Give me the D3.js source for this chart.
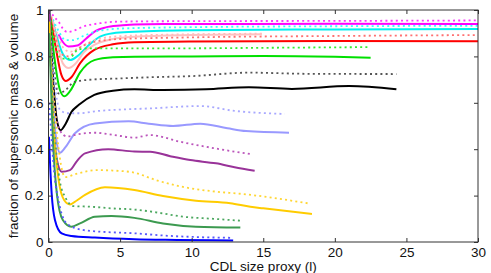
<!DOCTYPE html>
<html>
<head>
<meta charset="utf-8">
<script src="https://cdn.jsdelivr.net/npm/d3@7"></script>
<style>
  html, body { margin: 0; padding: 0; background: #fff; }
  #chart svg { display: block; }
</style>
</head>
<body>
<div id="chart"></div>
<script>
// values: [CDL size proxy, fraction]
var magentaSolid = [[0.7,0.895],[1.0,0.862],[1.4,0.843],[2.0,0.847],[2.6,0.875],[3.3,0.91],[4.0,0.925],[5.0,0.933],[6,0.937],[8,0.94],[12,0.94],[20,0.941],[30,0.94]];
var magentaDotted = [[0.05,1],[0.4,0.97],[0.7,0.95],[1.0,0.92],[1.3,0.905],[1.8,0.912],[2.4,0.928],[3.6,0.943],[5,0.95],[10,0.952],[20,0.953],[30,0.955]];
var cyanSolid = [[0.3,0.95],[0.6,0.88],[1.0,0.81],[1.5,0.784],[2.0,0.8],[2.7,0.842],[3.6,0.885],[4.5,0.9],[6,0.906],[10,0.913],[20,0.916],[30,0.918]];
var cyanDotted = [[0.3,0.96],[0.7,0.91],[1.2,0.87],[1.7,0.87],[2.5,0.89],[3.5,0.91],[5,0.92],[10,0.926],[20,0.93],[30,0.932]];
var pinkSolid = [[0.2,0.97],[0.6,0.86],[1.0,0.77],[1.4,0.75],[1.9,0.77],[2.5,0.82],[3.2,0.85],[4.5,0.875],[6,0.885],[10,0.892],[14.9,0.895]];
var pinkDotted = [[0.2,0.97],[0.6,0.9],[1.0,0.84],[1.5,0.82],[2.2,0.84],[3,0.865],[4.5,0.885],[7,0.892],[14.9,0.898]];
var redSolid = [[0.1,0.98],[0.5,0.84],[0.9,0.72],[1.2,0.694],[1.6,0.71],[2.2,0.77],[3.2,0.828],[4.5,0.852],[6,0.861],[10,0.864],[20,0.866],[30,0.865]];
var redDotted = [[0.1,0.98],[0.5,0.88],[0.9,0.81],[1.4,0.8],[2.0,0.83],[3,0.86],[5,0.875],[10,0.882],[20,0.888],[30,0.892]];
var greenSolid = [[0.05,1],[0.4,0.8],[0.8,0.655],[1.1,0.628],[1.5,0.65],[2.2,0.73],[3.2,0.784],[4.5,0.796],[6,0.799],[10,0.8],[15,0.802],[20,0.798],[22.5,0.794]];
var greenDotted = [[0.05,1],[0.4,0.87],[0.9,0.79],[1.4,0.79],[2.1,0.83],[3,0.835],[5,0.835],[10,0.835],[15,0.837],[22.3,0.84]];
var blackSolid = [[0.05,1],[0.3,0.72],[0.6,0.52],[0.85,0.482],[1.2,0.51],[1.6,0.56],[2.1,0.59],[3.2,0.634],[4.5,0.652],[6,0.658],[8,0.655],[11,0.658],[14,0.667],[17,0.66],[21,0.672],[24.3,0.658]];
var blackDotted = [[0.05,1],[0.3,0.8],[0.7,0.64],[1.1,0.65],[1.8,0.69],[3,0.7],[5,0.705],[7,0.71],[10,0.715],[14,0.73],[18,0.725],[24.3,0.724]];
var lightBlueSolid = [[0.05,1],[0.3,0.62],[0.6,0.42],[0.8,0.385],[1.2,0.41],[1.85,0.469],[3.24,0.511],[5.6,0.52],[7,0.51],[8.7,0.5],[10.6,0.51],[12.5,0.49],[13.8,0.478],[16.8,0.471]];
var lightBlueDotted = [[0.05,0.98],[0.4,0.7],[0.8,0.57],[1.3,0.555],[2.1,0.555],[3.5,0.565],[5.5,0.572],[7.1,0.576],[10.6,0.586],[13,0.565],[16.5,0.552]];
var purpleSolid = [[0.05,1],[0.3,0.55],[0.6,0.35],[0.92,0.303],[1.5,0.31],[2.0,0.35],[2.55,0.382],[4.17,0.4],[6,0.39],[7.1,0.389],[8.5,0.37],[9.9,0.353],[11.7,0.339],[13,0.322],[14.4,0.307]];
var purpleDotted = [[0.05,0.9],[0.4,0.6],[0.8,0.48],[1.3,0.455],[2.1,0.465],[3.2,0.471],[4.5,0.462],[6,0.45],[7.1,0.461],[9.2,0.432],[11.5,0.405],[13.8,0.382],[14.25,0.378]];
var yellowSolid = [[0.05,0.95],[0.3,0.55],[0.7,0.27],[1.1,0.18],[1.5,0.162],[2.0,0.18],[2.55,0.203],[3.94,0.236],[6,0.224],[8,0.198],[10.3,0.178],[12.7,0.167],[14.1,0.152],[15,0.145],[18.4,0.121]];
var yellowDotted = [[0.05,0.9],[0.4,0.6],[0.8,0.36],[1.15,0.28],[2.0,0.295],[3.4,0.31],[4.5,0.308],[5.9,0.3],[7.5,0.267],[9.2,0.24],[11.7,0.217],[13.4,0.208],[18.1,0.167]];
var darkGreenSolid = [[0.05,0.9],[0.3,0.45],[0.6,0.2],[1.0,0.095],[1.6,0.066],[2.2,0.08],[3.24,0.109],[4.4,0.112],[6,0.104],[8,0.08],[10.3,0.066],[13.4,0.062]];
var darkGreenDotted = [[0.05,0.9],[0.4,0.5],[0.8,0.26],[1.2,0.19],[1.73,0.155],[3,0.152],[4.4,0.145],[6,0.14],[7.5,0.128],[9.4,0.109],[11.5,0.1],[13.4,0.092]];
var blueSolid = [[0.03,0.454],[0.1,0.35],[0.22,0.21],[0.45,0.095],[0.92,0.037],[1.6,0.026],[3.24,0.019],[6,0.012],[9,0.009],[12.9,0.006]];
var blueDotted = [[0.05,0.6],[0.4,0.3],[0.8,0.15],[1.27,0.08],[2.4,0.052],[4,0.043],[5.9,0.038],[8,0.028],[10,0.022],[12.9,0.018]];

var xTicks = [0, 5, 10, 15, 20, 25, 30];
var yTicks = [0, 0.2, 0.4, 0.6, 0.8, 1];
var xLabel = 'CDL size proxy (l)';
var yLabel = 'fraction of supersonic mass & volume';

(function() {

  'use strict'

  var Chart = function(element) {
    this.element = element;
    this.svg = null;
    this.width = 491;
    this.height = 273;
    this.plot = { left: 48.5, right: 478, top: 10, bottom: 242 };
    this.tickSize = 4;
    this.fontFamily = '"Liberation Sans", Arial, Helvetica, sans-serif';
    this.dash = '2,3.2';

    this.series = [
      { data: magentaDotted, color: '#ff33ff', dotted: true },
      { data: magentaSolid, color: '#ff00ff' },
      { data: cyanDotted, color: '#33ffff', dotted: true },
      { data: cyanSolid, color: '#00f0f0' },
      { data: pinkDotted, color: '#ffb8b8', dotted: true },
      { data: pinkSolid, color: '#ffc0c0' },
      { data: redDotted, color: '#ff7070', dotted: true },
      { data: redSolid, color: '#ff0000' },
      { data: greenDotted, color: '#33ee33', dotted: true },
      { data: greenSolid, color: '#00e000' },
      { data: blackDotted, color: '#555555', dotted: true },
      { data: blackSolid, color: '#000000' },
      { data: lightBlueDotted, color: '#a8a8ff', dotted: true },
      { data: lightBlueSolid, color: '#9999ff' },
      { data: purpleDotted, color: '#bb55bb', dotted: true },
      { data: purpleSolid, color: '#993399' },
      { data: yellowDotted, color: '#ffd633', dotted: true },
      { data: yellowSolid, color: '#ffcc00' },
      { data: darkGreenDotted, color: '#4ca860', dotted: true },
      { data: darkGreenSolid, color: '#3c9a50' },
      { data: blueDotted, color: '#5555ff', dotted: true },
      { data: blueSolid, color: '#0000ff' }
    ];
  };

  Chart.prototype.init = function() {
    this.svg = d3.select(this.element).append('svg')
      .attr('width', this.width)
      .attr('height', this.height);

    this.x = d3.scaleLinear().domain([0, 30]).range([this.plot.left, this.plot.right]);
    this.y = d3.scaleLinear().domain([0, 1]).range([this.plot.bottom, this.plot.top]);

    this.setClip().setLines().setAxes().setLabels();
  };

  Chart.prototype.setClip = function() {
    this.svg.append('clipPath').attr('id', 'plot-clip')
      .append('rect')
      .attr('x', this.plot.left)
      .attr('y', this.plot.top)
      .attr('width', this.plot.right - this.plot.left)
      .attr('height', this.plot.bottom - this.plot.top);
    return this;
  };

  Chart.prototype.setLines = function() {
    var x = this.x, y = this.y, dash = this.dash;
    var line = d3.line()
      .x(function(d) { return x(d[0]); })
      .y(function(d) { return y(d[1]); })
      .curve(d3.curveMonotoneX);

    this.svg.append('g')
      .attr('clip-path', 'url(#plot-clip)')
      .selectAll('path')
      .data(this.series)
      .enter().append('path')
      .attr('d', function(s) { return line(s.data); })
      .attr('fill', 'none')
      .attr('stroke', function(s) { return s.color; })
      .attr('stroke-width', function(s) { return s.dotted ? 1.8 : 2; })
      .attr('stroke-dasharray', function(s) { return s.dotted ? dash : null; });
    return this;
  };

  Chart.prototype.setAxes = function() {
    var x = this.x, y = this.y, p = this.plot, t = this.tickSize;
    var font = this.fontFamily;

    var bottom = this.svg.append('g')
      .attr('transform', 'translate(0,' + p.bottom + ')')
      .call(d3.axisBottom(x).tickValues(xTicks).tickSize(-t).tickPadding(5).tickFormat(d3.format('d')));
    var left = this.svg.append('g')
      .attr('transform', 'translate(' + p.left + ',0)')
      .call(d3.axisLeft(y).tickValues(yTicks).tickSize(-t).tickPadding(5).tickFormat(function(d) { return d === 0 || d === 1 ? d : d.toFixed(1); }));
    var top = this.svg.append('g')
      .attr('transform', 'translate(0,' + p.top + ')')
      .call(d3.axisTop(x).tickValues(xTicks).tickSize(-t).tickFormat(''));
    var right = this.svg.append('g')
      .attr('transform', 'translate(' + p.right + ',0)')
      .call(d3.axisRight(y).tickValues(yTicks).tickSize(-t).tickFormat(''));

    [bottom, left, top, right].forEach(function(g) {
      g.select('.domain').remove();
      g.selectAll('line').attr('stroke', '#333');
      g.selectAll('text')
        .attr('font-family', font)
        .attr('font-size', '13.5px')
        .attr('fill', '#111');
    });

    this.svg.append('rect')
      .attr('x', p.left)
      .attr('y', p.top)
      .attr('width', p.right - p.left)
      .attr('height', p.bottom - p.top)
      .attr('fill', 'none')
      .attr('stroke', '#333')
      .attr('stroke-width', 1);
    return this;
  };

  Chart.prototype.setLabels = function() {
    var p = this.plot;
    this.svg.append('text')
      .attr('x', (p.left + p.right) / 2)
      .attr('y', 271)
      .attr('text-anchor', 'middle')
      .attr('font-family', this.fontFamily)
      .attr('font-size', '13.5px')
      .attr('fill', '#111')
      .text(xLabel);

    this.svg.append('text')
      .attr('transform', 'translate(18,' + (p.top + p.bottom) / 2 + ') rotate(-90)')
      .attr('text-anchor', 'middle')
      .attr('font-family', this.fontFamily)
      .attr('font-size', '13.5px')
      .attr('fill', '#111')
      .text(yLabel);
    return this;
  };

  var app = new Chart('#chart');
  app.init();

})();
</script>
</body>
</html>
